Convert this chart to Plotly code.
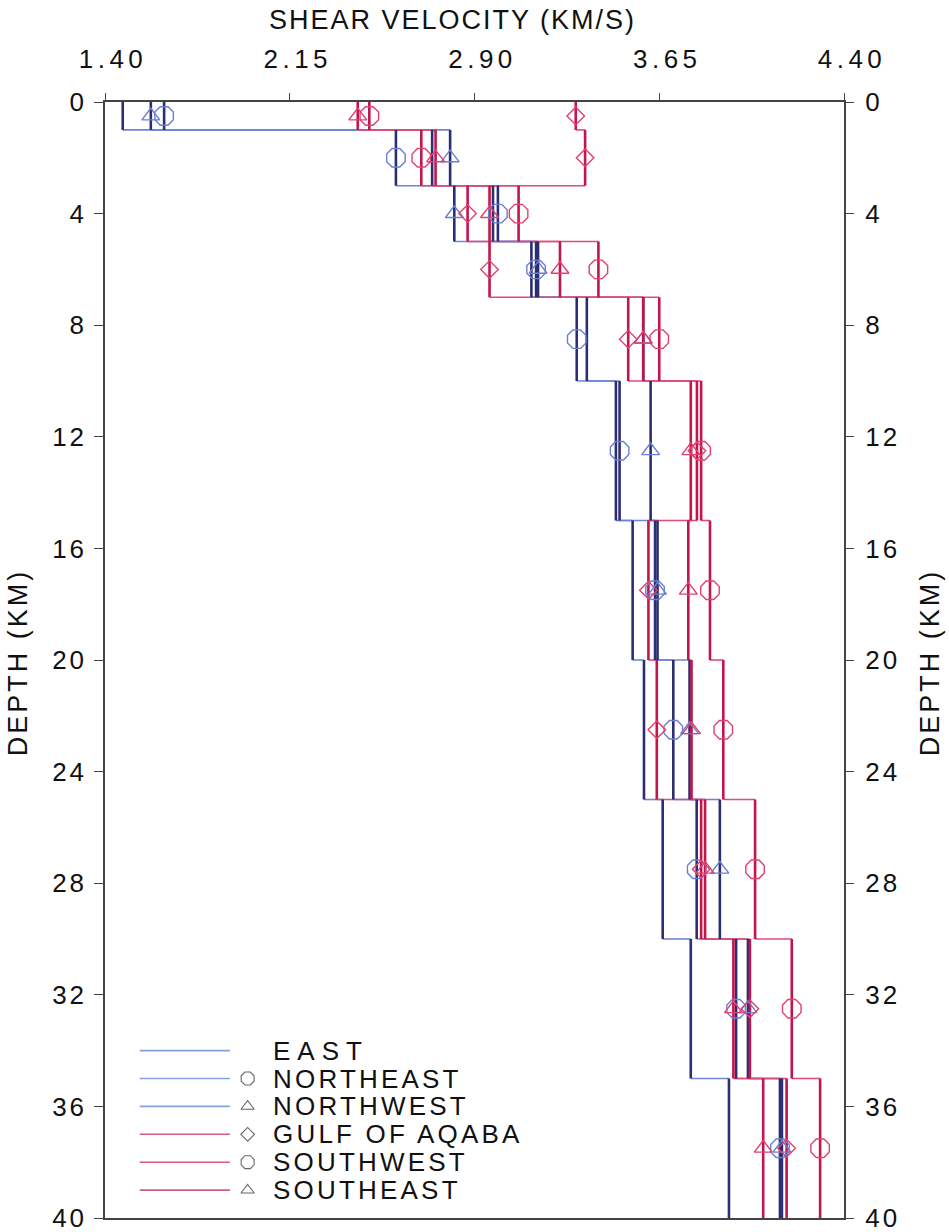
import plotly.graph_objects as go

# Layer boundaries (km) of the layered shear-velocity models
layer_tops = [0, 1, 3, 5, 7, 10, 15, 20, 25, 30, 35]
layer_bottoms = [1, 3, 5, 7, 10, 15, 20, 25, 30, 35, 40]

# Shear velocity (km/s) of each layer, per region
east = [1.472, 2.728, 2.975, 3.131, 3.356, 3.474, 3.542, 3.588, 3.664, 3.778, 3.933]
northeast = [1.640, 2.581, 2.995, 3.150, 3.315, 3.489, 3.633, 3.707, 3.802, 3.962, 4.140]
northwest = [1.586, 2.801, 2.818, 3.158, 3.585, 3.615, 3.643, 3.773, 3.896, 4.010, 4.148]
gulf_of_aqaba = [3.311, 3.349, 2.872, 2.961, 3.524, 3.803, 3.606, 3.640, 3.820, 4.018, 4.167]
southwest = [2.473, 2.684, 3.079, 3.403, 3.650, 3.820, 3.856, 3.910, 4.039, 4.188, 4.303]
southeast = [2.426, 2.742, 2.961, 3.247, 3.585, 3.778, 3.768, 3.781, 3.836, 3.951, 4.072]

region_names = ["EAST", "NORTHEAST", "NORTHWEST", "GULF OF AQABA", "SOUTHWEST", "SOUTHEAST"]
region_values = [east, northeast, northwest, gulf_of_aqaba, southwest, southeast]

x_ticks = [1.40, 2.15, 2.90, 3.65, 4.40]
depth_ticks = [0, 4, 8, 12, 16, 20, 24, 28, 32, 36, 40]

# Styling
BLUE = dict(vert="#2c2e72", horiz="#6d86d6", mark="#6a7fd2", legend="#86a0dc")
RED = dict(vert="#c2154a", horiz="#e04c7a", mark="#e2406e", legend="#d65a86")
styles = [
    (BLUE, None),
    (BLUE, "octagon-open"),
    (BLUE, "triangle-up-open"),
    (RED, "diamond-open"),
    (RED, "octagon-open"),
    (RED, "triangle-up-open"),
]
marker_sizes = {"octagon-open": 20, "triangle-up-open": 15.5, "diamond-open": 13.5}
legend_sizes = {"octagon-open": 14, "triangle-up-open": 11.5, "diamond-open": 10.5}

FONT = "Liberation Sans, Arial, sans-serif"
INK = "#111111"


def spaced(text, px):
    """Wrap a label so it is drawn with extra tracking between letters."""
    return f"<span style='letter-spacing:{px}px'>{text}</span>"


fig = go.Figure()

mid_depths = [(a + b) / 2 for a, b in zip(layer_tops, layer_bottoms)]

for name, vals, (col, sym) in zip(region_names, region_values, styles):
    # horizontal steps between consecutive layers
    hx, hy = [], []
    for i in range(len(vals) - 1):
        hx += [vals[i], vals[i + 1], None]
        hy += [layer_bottoms[i], layer_bottoms[i], None]
    fig.add_trace(go.Scatter(x=hx, y=hy, mode="lines",
                             line=dict(color=col["horiz"], width=1.6),
                             showlegend=False, hoverinfo="skip"))
for name, vals, (col, sym) in zip(region_names, region_values, styles):
    # vertical segments: constant velocity within each layer
    vx, vy = [], []
    for v, t, b in zip(vals, layer_tops, layer_bottoms):
        vx += [v, v, None]
        vy += [t, b, None]
    fig.add_trace(go.Scatter(x=vx, y=vy, mode="lines",
                             line=dict(color=col["vert"], width=2.6),
                             showlegend=False, hoverinfo="skip"))

for name, vals, (col, sym) in zip(region_names, region_values, styles):
    if sym is None:
        continue
    fig.add_trace(go.Scatter(x=vals, y=mid_depths, mode="markers",
                             marker=dict(symbol=sym, size=marker_sizes[sym],
                                         color=col["mark"],
                                         line=dict(width=1.4, color=col["mark"])),
                             showlegend=False, hoverinfo="skip"))

# right-hand depth axis
fig.add_trace(go.Scatter(x=[x_ticks[0]], y=[depth_ticks[0]], yaxis="y2",
                         mode="markers", marker=dict(opacity=0),
                         showlegend=False, hoverinfo="skip"))

# key drawn inside the plot area (paper-fraction overlay axes)
LEG_X0, LEG_X1, LEG_SYM, LEG_TXT = 0.047, 0.169, 0.193, 0.225
LEG_TOP, LEG_STEP = 0.150, 0.025
annotations = []
for k, (name, (col, sym)) in enumerate(zip(region_names, styles)):
    yk = LEG_TOP - k * LEG_STEP
    fig.add_trace(go.Scatter(x=[LEG_X0, LEG_X1], y=[yk, yk], xaxis="x2", yaxis="y3",
                             mode="lines", line=dict(color=col["legend"], width=1.6),
                             showlegend=False, hoverinfo="skip"))
    if sym is not None:
        fig.add_trace(go.Scatter(x=[LEG_SYM], y=[yk], xaxis="x2", yaxis="y3",
                                 mode="markers",
                                 marker=dict(symbol=sym, size=legend_sizes[sym],
                                             color="#666666",
                                             line=dict(width=1.1, color="#666666")),
                                 showlegend=False, hoverinfo="skip"))
    track = 7 if sym is None else 3.2
    annotations.append(dict(x=LEG_TXT, y=yk, xref="paper", yref="paper",
                            text=spaced(name, track), showarrow=False,
                            xanchor="left", yanchor="middle",
                            font=dict(family=FONT, size=26, color=INK)))

# axis titles
annotations.append(dict(x=0.4696, y=1.0735, xref="paper", yref="paper",
                        text=spaced("SHEAR VELOCITY (KM/S)", 2),
                        showarrow=False, xanchor="center", yanchor="middle",
                        font=dict(family=FONT, size=27, color=INK)))
for xpos in (-0.1177, 1.1164):
    annotations.append(dict(x=xpos, y=0.498, xref="paper", yref="paper",
                            text=spaced("DEPTH (KM)", 3), showarrow=False,
                            textangle=-90, xanchor="center", yanchor="middle",
                            font=dict(family=FONT, size=27, color=INK)))

axis_common = dict(showgrid=False, zeroline=False, ticks="outside",
                   tickcolor="#444444", tickwidth=1.2, ticklabeloverflow="allow",
                   tickfont=dict(family=FONT, size=26, color=INK))

fig.update_layout(
    width=949, height=1232,
    margin=dict(l=105, r=105, t=102, b=14, autoexpand=False),
    paper_bgcolor="white", plot_bgcolor="white",
    hovermode=False,
    showlegend=False,
    annotations=annotations,
    xaxis=dict(range=[1.40, 4.40], side="top", tickvals=x_ticks,
               ticktext=[spaced(f"{v:.2f}", 4.5) for v in x_ticks], ticklen=7,
               ticklabelstandoff=15, ticklabelshift=8,
               showline=True, mirror=True, linecolor="#444444", linewidth=1.5,
               **axis_common),
    yaxis=dict(range=[40, 0], tickvals=depth_ticks,
               ticktext=[spaced(str(d), 3) for d in depth_ticks], ticklen=9,
               ticklabelstandoff=2,
               showline=True, mirror=True, linecolor="#444444", linewidth=1.5,
               **axis_common),
    yaxis2=dict(range=[40, 0], tickvals=depth_ticks,
                ticktext=[spaced(str(d), 3) for d in depth_ticks], ticklen=9,
                overlaying="y", side="right", ticklabelstandoff=6,
                showline=False, **axis_common),
    xaxis2=dict(range=[0, 1], overlaying="x", visible=False),
    yaxis3=dict(range=[0, 1], overlaying="y", visible=False),
)

fig.write_html("out.html")
